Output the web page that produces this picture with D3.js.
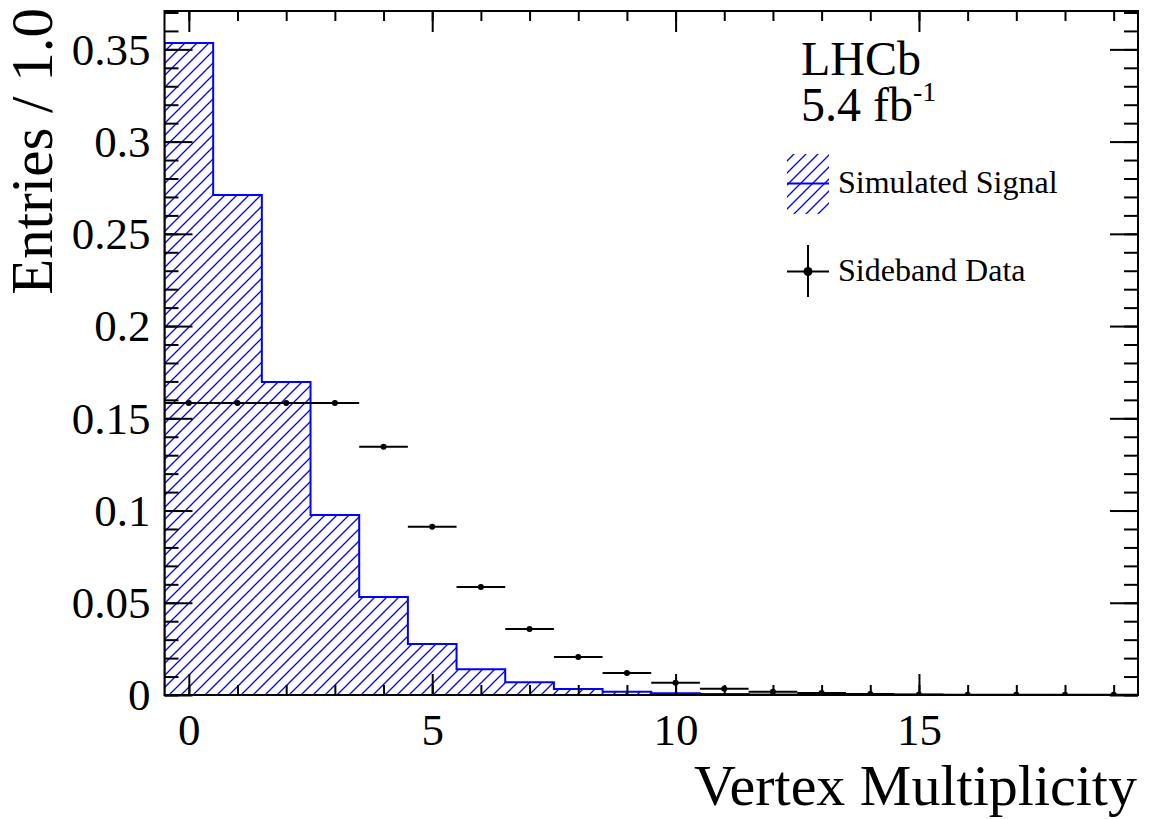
<!DOCTYPE html>
<html>
<head>
<meta charset="utf-8">
<script src="https://cdn.jsdelivr.net/npm/d3@7"></script>
<style>
  html, body { margin: 0; padding: 0; background: #fff; }
  svg { display: block; font-family: "Liberation Serif", "DejaVu Serif", serif; }
</style>
</head>
<body>
<svg id="chart" width="1149" height="819"></svg>
<script>
// Vertex multiplicity: bin centres 0..19, unit-width bins
const binCenters = [0,1,2,3,4,5,6,7,8,9,10,11,12,13,14,15,16,17,18,19];
// Simulated signal (normalised entries per bin)
const signalValues = [0.3534,0.2710,0.1697,0.0976,0.0531,0.0276,0.0139,0.0069,0.0033,0.0018,
                      0.0010,0.0006,0.0003,0.0002,0.0001,0.0001,0.00005,0.00003,0.00002,0.00001];
// Sideband data (normalised entries per bin)
const sidebandValues = [0.1583,0.1583,0.1583,0.1583,0.1346,0.0912,0.0585,0.0358,0.0206,0.0119,
                        0.0067,0.0034,0.0018,0.0011,0.0006,0.0003,0.0002,0.0001,0.0001,0.0001];
const xTicks = [0,5,10,15];
const xTickLabels = ["0","5","10","15"];
const yTicks = [0,0.05,0.1,0.15,0.2,0.25,0.3,0.35];
const yTickLabels = ["0","0.05","0.1","0.15","0.2","0.25","0.3","0.35"];

const svg = d3.select("#chart");
const L = 164.5, R = 1138, T = 11, B = 695;

const x = d3.scaleLinear().domain([-0.5, 19.5]).range([L, R]);
const y = d3.scaleLinear().domain([0, 0.3708]).range([B, T]);

// hatch fill for the simulated signal
const defs = svg.append("defs");
const pat = defs.append("pattern")
  .attr("id", "hatch").attr("patternUnits", "userSpaceOnUse")
  .attr("width", 12).attr("height", 12);
pat.append("path")
  .attr("d", "M-3,3 L3,-3 M0,12 L12,0 M9,15 L15,9")
  .attr("stroke", "#0000ff").attr("stroke-width", 1.3)
  .attr("fill", "none");

defs.append("clipPath").attr("id", "frameClip")
  .append("rect").attr("x", L).attr("y", T).attr("width", R - L).attr("height", B - T);

const plot = svg.append("g").attr("clip-path", "url(#frameClip)");

// signal histogram as a stepped outline
const stepPts = [[-0.5, 0]];
binCenters.forEach((c, i) => {
  stepPts.push([c - 0.5, signalValues[i]]);
  stepPts.push([c + 0.5, signalValues[i]]);
});
stepPts.push([19.5, 0]);
const line = d3.line().x(d => x(d[0])).y(d => y(d[1]));
plot.append("path").attr("d", line(stepPts) + "Z")
  .attr("fill", "url(#hatch)").attr("stroke", "none");
plot.append("path").attr("d", line(stepPts))
  .attr("fill", "none").attr("stroke", "#0000ff").attr("stroke-width", 2);

// sideband data: markers with bin-width bars
const pts = plot.append("g");
pts.selectAll("line.ex").data(binCenters).join("line")
  .attr("x1", d => x(d - 0.5)).attr("x2", d => x(d + 0.5))
  .attr("y1", (d, i) => y(sidebandValues[i])).attr("y2", (d, i) => y(sidebandValues[i]))
  .attr("stroke", "#000").attr("stroke-width", 2);
pts.selectAll("circle").data(binCenters).join("circle")
  .attr("cx", d => x(d)).attr("cy", (d, i) => y(sidebandValues[i]))
  .attr("r", 3).attr("fill", "#000");

// axes: ticks pointing inward on all four sides
function styleAxis(g) {
  g.select(".domain").remove();
  g.selectAll(".tick line").attr("stroke", "#000").attr("stroke-width", 2);
}
const yMinor = d3.range(0, 0.3705, 0.01);
const xMinor = d3.range(0, 20, 1);

svg.append("g").attr("transform", `translate(${L},0)`)
  .call(d3.axisLeft(y).tickValues(yMinor).tickSize(-14).tickFormat("")).call(styleAxis);
svg.append("g").attr("transform", `translate(${L},0)`)
  .call(d3.axisLeft(y).tickValues(yTicks).tickSize(-28).tickPadding(14)
    .tickFormat((d, i) => yTickLabels[i])).call(styleAxis)
  .selectAll("text").attr("font-size", 45).attr("fill", "#000")
  .attr("font-family", "Liberation Serif").attr("dy", "0.33em");
svg.append("g").attr("transform", `translate(${R},0)`)
  .call(d3.axisRight(y).tickValues(yMinor).tickSize(-14).tickFormat("")).call(styleAxis);
svg.append("g").attr("transform", `translate(${R},0)`)
  .call(d3.axisRight(y).tickValues(yTicks).tickSize(-28).tickFormat("")).call(styleAxis);

svg.append("g").attr("transform", `translate(0,${B})`)
  .call(d3.axisBottom(x).tickValues(xMinor).tickSize(-10).tickFormat("")).call(styleAxis);
svg.append("g").attr("transform", `translate(0,${B})`)
  .call(d3.axisBottom(x).tickValues(xTicks).tickSize(-21).tickPadding(18)
    .tickFormat((d, i) => xTickLabels[i])).call(styleAxis)
  .selectAll("text").attr("font-size", 45).attr("fill", "#000")
  .attr("font-family", "Liberation Serif").attr("dy", "0.71em");
svg.append("g").attr("transform", `translate(0,${T})`)
  .call(d3.axisTop(x).tickValues(xMinor).tickSize(-10).tickFormat("")).call(styleAxis);
svg.append("g").attr("transform", `translate(0,${T})`)
  .call(d3.axisTop(x).tickValues(xTicks).tickSize(-21).tickFormat("")).call(styleAxis);

// frame
svg.append("rect").attr("x", L).attr("y", T).attr("width", R - L).attr("height", B - T)
  .attr("fill", "none").attr("stroke", "#000").attr("stroke-width", 2);

// axis titles
svg.append("text").attr("x", 1137).attr("y", 805).attr("text-anchor", "end")
  .attr("font-size", 58).attr("fill", "#000").text("Vertex Multiplicity");
svg.append("text").attr("transform", "translate(52,8) rotate(-90)").attr("text-anchor", "end")
  .attr("font-size", 59).attr("fill", "#000").text("Entries / 1.0");

// experiment label, two lines in one text block
const expLabel = svg.append("text").attr("x", 801).attr("y", 75)
  .attr("font-size", 48).attr("fill", "#000");
expLabel.append("tspan").attr("x", 801).attr("y", 75).text("LHCb");
expLabel.append("tspan").attr("x", 801).attr("y", 121).text("5.4 fb");
expLabel.append("tspan").attr("font-size", 28).attr("dy", -20).text("-1");

// legend
const leg = svg.append("g");
leg.append("rect").attr("x", 787).attr("y", 154).attr("width", 42).attr("height", 60)
  .attr("fill", "url(#hatch)");
leg.append("line").attr("x1", 787).attr("x2", 829).attr("y1", 183.5).attr("y2", 183.5)
  .attr("stroke", "#0000ff").attr("stroke-width", 2);
leg.append("text").attr("x", 838).attr("y", 193).attr("font-size", 32).attr("fill", "#000")
  .text("Simulated Signal");
leg.append("line").attr("x1", 787).attr("x2", 829).attr("y1", 271.5).attr("y2", 271.5)
  .attr("stroke", "#000").attr("stroke-width", 2);
leg.append("line").attr("x1", 808).attr("x2", 808).attr("y1", 245).attr("y2", 297)
  .attr("stroke", "#000").attr("stroke-width", 2);
leg.append("circle").attr("cx", 808).attr("cy", 271.5).attr("r", 4.5).attr("fill", "#000");
leg.append("text").attr("x", 838).attr("y", 281).attr("font-size", 32).attr("fill", "#000")
  .text("Sideband Data");
</script>
</body>
</html>
